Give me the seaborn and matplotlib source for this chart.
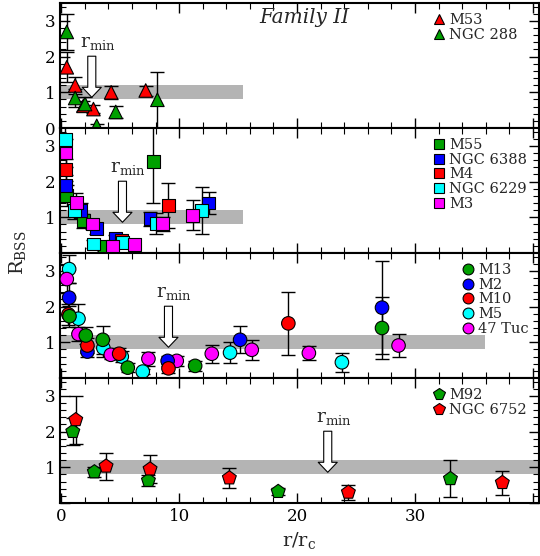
import numpy as np
import pandas as pd
import matplotlib
matplotlib.use("Agg")
import matplotlib.pyplot as plt
from matplotlib.ticker import MultipleLocator
import seaborn as sns

sns.set_theme(style="ticks")
plt.rcParams['font.family'] = ['DejaVu Serif']
plt.rcParams['mathtext.fontset'] = 'dejavuserif'

# ---------------- data ----------------
# Panel 1
m53_x = [0.48, 1.19, 1.89, 2.74, 4.24, 7.17]
m53_y = [1.70, 1.19, 0.62, 0.53, 1.00, 1.05]
m53_e = [0.42, 0.25, 0.15, 0.12, 0.18, 0.14]
ngc288_x = [0.48, 1.19, 2.03, 3.02, 4.63, 8.16]
ngc288_y = [2.69, 0.84, 0.67, 0.06, 0.45, 0.79]
ngc288_e = [0.50, 0.25, 0.20, 0.06, 0.18, 0.79]

# Panel 2
m55_x = [0.48, 1.89, 3.64, 7.83]
m55_y = [1.61, 0.90, 0.18, 2.56]
m55_e = [0.30, 0.20, 0.12, 1.15]
ngc6388_x = [0.42, 1.69, 2.97, 4.58, 7.54, 12.5]
ngc6388_y = [1.89, 1.19, 0.69, 0.41, 0.96, 1.40]
ngc6388_e = [0.30, 0.20, 0.15, 0.10, 0.20, 0.30]
m4_x = [0.42, 5.1, 9.1]
m4_y = [2.33, 0.35, 1.33]
m4_e = [0.30, 0.15, 0.62]
ngc6229_x = [0.34, 1.13, 2.74, 5.2, 8.05, 11.92]
ngc6229_y = [3.17, 1.19, 0.25, 0.30, 0.82, 1.19]
ngc6229_e = [0.50, 0.25, 0.12, 0.15, 0.30, 0.65]
m3_x = [0.42, 1.27, 2.65, 4.35, 6.2, 8.6, 11.16]
m3_y = [2.80, 1.42, 0.81, 0.18, 0.23, 0.82, 1.06]
m3_e = [0.40, 0.25, 0.15, 0.08, 0.08, 0.20, 0.42]

# Panel 3
m13_x = [0.71, 2.09, 3.53, 5.65, 11.36, 27.2]
m13_y = [1.73, 1.19, 1.07, 0.29, 0.34, 1.40]
m13_e = [0.30, 0.25, 0.40, 0.12, 0.15, 0.88]
m2_x = [0.68, 2.23, 9.03, 15.17, 27.2]
m2_y = [2.25, 0.74, 0.48, 1.07, 1.97]
m2_e = [0.40, 0.15, 0.15, 0.38, 1.30]
m10_x = [0.62, 2.23, 4.92, 9.1, 19.26]
m10_y = [1.78, 0.91, 0.68, 0.27, 1.53]
m10_e = [0.30, 0.20, 0.15, 0.12, 0.88]
m5_x = [0.68, 1.47, 3.58, 5.14, 6.92, 14.32, 23.8]
m5_y = [3.05, 1.66, 0.84, 0.60, 0.18, 0.71, 0.44]
m5_e = [0.40, 0.40, 0.25, 0.15, 0.08, 0.30, 0.26]
tuc47_x = [0.48, 1.47, 4.21, 7.4, 9.8, 12.77, 16.16, 21.0, 28.6]
tuc47_y = [2.77, 1.23, 0.65, 0.54, 0.48, 0.68, 0.79, 0.70, 0.91]
tuc47_e = [0.40, 0.20, 0.12, 0.20, 0.15, 0.25, 0.28, 0.20, 0.33]

# Panel 4
m92_x = [0.99, 2.82, 7.4, 18.4, 33.0]
m92_y = [2.00, 0.87, 0.63, 0.32, 0.68]
m92_e = [0.38, 0.15, 0.15, 0.10, 0.52]
ngc6752_x = [1.24, 3.81, 7.54, 14.26, 24.35, 37.4]
ngc6752_y = [2.33, 1.03, 0.95, 0.70, 0.30, 0.57]
ngc6752_e = [0.67, 0.38, 0.39, 0.28, 0.21, 0.34]

# r_min positions per panel
rmin_x = [2.6, 5.2, 9.1, 22.6]
band_end = [15.4, 15.4, 35.9, 40.5]

GREEN = '#00a000'
RED = '#ff0000'
BLUE = '#0000ff'
CYAN = '#00ffff'
MAGENTA = '#ff00ff'

panels = [
    dict(marker='^', s=95, series=[
        ('M53', m53_x, m53_y, m53_e, RED),
        ('NGC 288', ngc288_x, ngc288_y, ngc288_e, GREEN)],
        leg_order=['M53', 'NGC 288'], leg_pos=(0.755, 0.99)),
    dict(marker='s', s=85, series=[
        ('M55', m55_x, m55_y, m55_e, GREEN),
        ('NGC 6388', ngc6388_x, ngc6388_y, ngc6388_e, BLUE),
        ('M4', m4_x, m4_y, m4_e, RED),
        ('NGC 6229', ngc6229_x, ngc6229_y, ngc6229_e, CYAN),
        ('M3', m3_x, m3_y, m3_e, MAGENTA)],
        leg_order=['M55', 'NGC 6388', 'M4', 'NGC 6229', 'M3'], leg_pos=(0.755, 0.99)),
    dict(marker='o', s=95, series=[
        ('M5', m5_x, m5_y, m5_e, CYAN),
        ('47 Tuc', tuc47_x, tuc47_y, tuc47_e, MAGENTA),
        ('M2', m2_x, m2_y, m2_e, BLUE),
        ('M10', m10_x, m10_y, m10_e, RED),
        ('M13', m13_x, m13_y, m13_e, GREEN)],
        leg_order=['M13', 'M2', 'M10', 'M5', '47 Tuc'], leg_pos=(0.815, 0.99)),
    dict(marker='p', s=110, series=[
        ('M92', m92_x, m92_y, m92_e, GREEN),
        ('NGC 6752', ngc6752_x, ngc6752_y, ngc6752_e, RED)],
        leg_order=['M92', 'NGC 6752'], leg_pos=(0.755, 0.99)),
]

fig = plt.figure(figsize=(5.4, 5.56), dpi=100)
gs = fig.add_gridspec(4, 1, left=0.111, right=0.998, top=0.9946, bottom=0.0953, hspace=0)
axes = [fig.add_subplot(gs[i]) for i in range(4)]

for i, (ax, p) in enumerate(zip(axes, panels)):
    ax.axhspan(0.8, 1.2, xmin=0, xmax=(band_end[i] + 0.1) / 40.6, color='#b4b4b4', lw=0, zorder=0)
    rows = []
    for name, xs, ys, es, col in p['series']:
        ax.errorbar(xs, ys, yerr=es, fmt='none', ecolor='black', elinewidth=1.0,
                    capsize=5, capthick=1.0, zorder=2)
        for xv, yv in zip(xs, ys):
            rows.append(dict(x=xv, y=yv, cluster=name))
    df = pd.DataFrame(rows)
    pal = {n: c for n, _, _, _, c in p['series']}
    sns.scatterplot(data=df, x='x', y='y', hue='cluster', hue_order=p['leg_order'],
                    palette=pal, marker=p['marker'], s=p['s'], edgecolor='black',
                    linewidth=0.8, ax=ax, zorder=3, legend=True)
    sns.move_legend(ax, 'upper left', bbox_to_anchor=p['leg_pos'], frameon=False,
                    title=None, fontsize=10.5, handletextpad=0.1, labelspacing=0.05,
                    borderaxespad=0.2, handlelength=1.2, markerscale=0.8)
    # r_min arrow
    ax.annotate('', xy=(rmin_x[i], 0.86), xytext=(rmin_x[i], 2.01),
                arrowprops=dict(arrowstyle='simple,head_width=1.37,head_length=0.72,tail_width=0.58',
                                mutation_scale=10, fc='white', ec='black', lw=0.8,
                                shrinkA=0, shrinkB=0), zorder=4)
    ax.text(rmin_x[i] + 0.5, 2.12, r'r$_{\rm min}$', fontsize=13.5, ha='center', va='bottom')

    ax.set_xlim(-0.1, 40.5)
    ax.set_ylim(0, 3.5)
    ax.xaxis.set_major_locator(MultipleLocator(10))
    ax.xaxis.set_minor_locator(MultipleLocator(2))
    ax.yaxis.set_major_locator(MultipleLocator(1))
    ax.yaxis.set_minor_locator(MultipleLocator(0.2))
    ax.tick_params(which='both', direction='in', top=True, right=True, colors='black',
                   labelsize=12)
    ax.tick_params(which='major', length=7, width=1.0)
    ax.tick_params(which='minor', length=4, width=0.8)
    for sp in ax.spines.values():
        sp.set_linewidth(1.5)
        sp.set_color('black')
    ax.set_xlabel('')
    ax.set_ylabel('')
    if i == 0:
        ax.set_yticks([0, 1, 2, 3])
        ax.set_yticklabels(['0', '1', '2', '3'])
    else:
        ax.set_yticks([0, 1, 2, 3])
        ax.set_yticklabels(['', '1', '2', '3'])
    if i < 3:
        ax.tick_params(labelbottom=False)
    else:
        ax.set_xticks([0, 10, 20, 30, 40])
        ax.set_xticklabels(['0', '10', '20', '30', ''])

axes[0].text(20.6, 3.1, 'Family II', fontsize=14.5, style='italic', ha='center', va='center')
axes[3].set_xlabel(r'r/r$_{\rm c}$', fontsize=14)
fig.text(0.033, 0.545, r'R$_{\rm BSS}$', rotation=90, fontsize=14, ha='center', va='center')

fig.savefig('out.png', dpi=100)
